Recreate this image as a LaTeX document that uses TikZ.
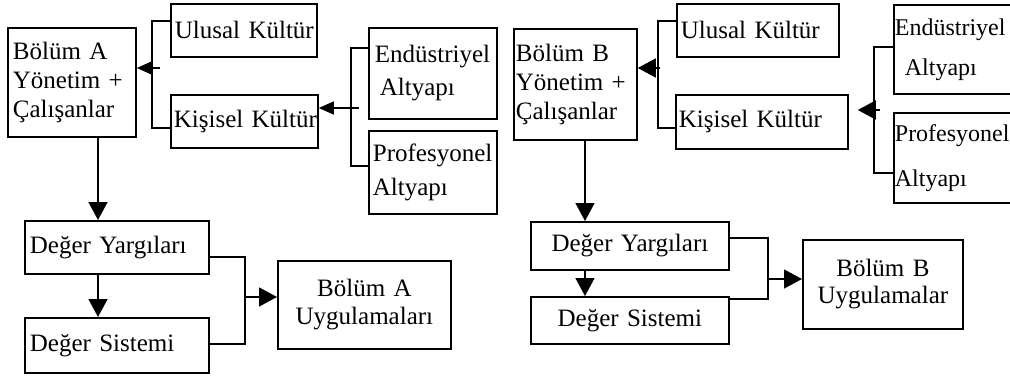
\documentclass[tikz,border=0pt]{standalone}
\usepackage{fontspec}
\setmainfont{Liberation Serif}
\usetikzlibrary{arrows.meta}
\begin{document}
\begin{tikzpicture}[x=1pt,y=-1pt,
  box/.style={draw, line width=1.8pt, rectangle, anchor=north west, inner ysep=0pt,
              align=left, font=\fontsize{25}{29}\selectfont},
  cbox/.style={box, align=center},
  conn/.style={line width=1.6pt},
  arr/.style={conn, -{Triangle[length=18pt,width=19pt]}},
  arrs/.style={conn, -{Triangle[length=15pt,width=13pt]}}]
\useasboundingbox (0,0) rectangle (1010,378);
\clip (0,0) rectangle (1010,378);

% ---------- Bölüm A ----------
\node[box, minimum height=109pt, inner xsep=5pt, text width=118pt] (bA) at (7,27)
  {Bölüm~A\\Yönetim~+\\Çalışanlar};
\node[box, minimum height=53pt, inner xsep=4pt, text width=138pt] (ulA) at (170,3)
  {Ulusal~Kültür};
\node[box, minimum height=53pt, inner xsep=3pt, text width=141pt] (kiA) at (170,94)
  {Kişisel~Kültür};
\node[box, minimum height=91pt, inner xsep=6pt, text width=116pt,
      font=\fontsize{25}{33}\selectfont] (enA) at (368,27)
  {Endüstriyel\\\hspace*{5pt}Altyapı};
\node[box, minimum height=83pt, inner xsep=4pt, text width=120pt,
      font=\fontsize{25}{34}\selectfont] (prA) at (368,130)
  {Profesyonel\\Altyapı};
\node[box, minimum height=53pt, inner xsep=5pt, text width=174pt] (dyA) at (24,220)
  {Değer~Yargıları};
\node[box, minimum height=55pt, inner xsep=5pt, text width=174pt] (dsA) at (24,317)
  {Değer~Sistemi};
\node[cbox, minimum height=88pt, inner xsep=4pt, text width=165pt,
      font=\fontsize{25}{28}\selectfont] (uA) at (277,260)
  {Bölüm~A\\Uygulamaları};

% brackets and arrows, part A
\coordinate (kA1t) at (152,21);
\coordinate (kA1b) at (152,128);
\coordinate (kA1m) at (160,68);
\draw[conn] (ulA.west |- kA1t) -- (kA1t) -- (kA1b) -- (kiA.west |- kA1b);
\draw[arrs] (kA1m) -- (bA.east |- kA1m);

\coordinate (kA2t) at (351,48);
\coordinate (kA2b) at (351,166);
\coordinate (kA2m) at (359,108);
\draw[conn] (enA.west |- kA2t) -- (kA2t) -- (kA2b) -- (prA.west |- kA2b);
\draw[arrs] (kA2m) -- (kiA.east |- kA2m);

\coordinate (vA) at (98,0);
\draw[arr] (bA.south -| vA) -- (dyA.north -| vA);
\draw[arr] (dyA.south -| vA) -- (dsA.north -| vA);

\coordinate (jAt) at (245,257);
\coordinate (jAb) at (245,344);
\coordinate (jAm) at (245,297);
\draw[conn] (dyA.east |- jAt) -- (jAt) -- (jAb) -- (dsA.east |- jAb);
\draw[arr] (jAm) -- (uA.west |- jAm);

% ---------- Bölüm B ----------
\node[box, minimum height=111pt, inner xsep=2pt, text width=119pt] (bB) at (513,28)
  {Bölüm~B\\Yönetim~+\\Çalışanlar};
\node[box, minimum height=53pt, inner xsep=4pt, text width=154pt] (ulB) at (676,3)
  {Ulusal~Kültür};
\node[box, minimum height=54pt, inner xsep=3pt, text width=166pt] (kiB) at (675,94)
  {Kişisel~Kültür};
\node[box, minimum height=89pt, inner xsep=1pt, text width=121pt,
      font=\fontsize{24}{40}\selectfont] (enB) at (893,4)
  {Endüstriyel\\\hspace*{10pt}Altyapı};
\node[box, minimum height=90pt, inner xsep=1pt, text width=121pt,
      font=\fontsize{24}{45}\selectfont] (prB) at (893,112)
  {Profesyonel\\Altyapı};
\node[cbox, minimum height=48pt, inner xsep=4pt, text width=190pt] (dyB) at (530,221)
  {Değer~Yargıları};
\node[cbox, minimum height=47pt, inner xsep=4pt, text width=190pt] (dsB) at (530,296)
  {Değer~Sistemi};
\node[cbox, minimum height=89pt, inner xsep=4pt, text width=152pt,
      font=\fontsize{25}{27}\selectfont] (uB) at (802,239)
  {Bölüm~B\\Uygulamalar};

% brackets and arrows, part B
\coordinate (kB1t) at (658,21);
\coordinate (kB1b) at (658,128);
\coordinate (kB1m) at (660,68);
\draw[conn] (ulB.west |- kB1t) -- (kB1t) -- (kB1b) -- (kiB.west |- kB1b);
\draw[arr] (kB1m) -- (bB.east |- kB1m);

\coordinate (kB2t) at (874,47);
\coordinate (kB2b) at (874,173);
\coordinate (kB2m) at (880,110);
\draw[conn] (enB.west |- kB2t) -- (kB2t) -- (kB2b) -- (prB.west |- kB2b);
\draw[arr, shorten >=9pt] (kB2m) -- (kiB.east |- kB2m);

\coordinate (vB) at (585,0);
\draw[arr] (bB.south -| vB) -- (dyB.north -| vB);
\draw[arr] (dyB.south -| vB) -- (dsB.north -| vB);

\coordinate (jBt) at (768,238);
\coordinate (jBb) at (768,299);
\coordinate (jBm) at (768,279);
\draw[conn] (dyB.east |- jBt) -- (jBt) -- (jBb) -- (dsB.east |- jBb);
\draw[arr] (jBm) -- (uB.west |- jBm);
\end{tikzpicture}
\end{document}
